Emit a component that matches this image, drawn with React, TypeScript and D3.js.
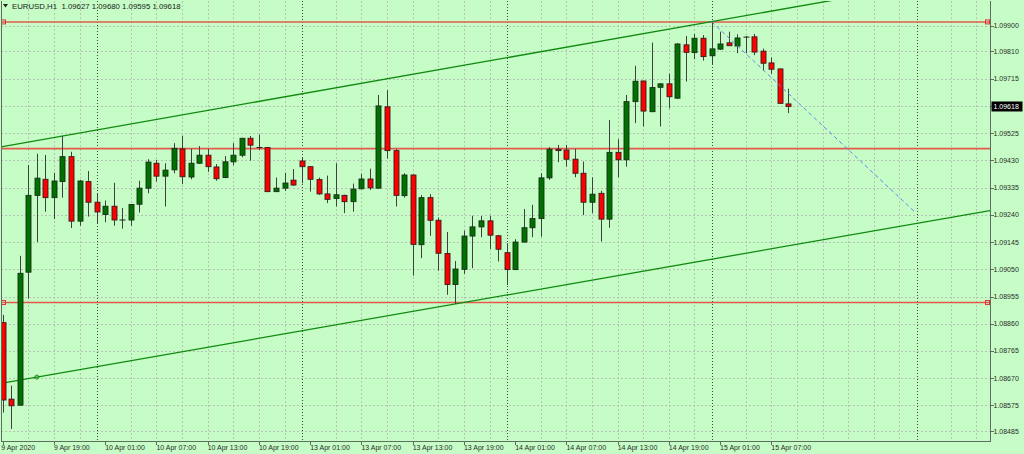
import React from "react";
import * as d3 from "d3";

// ---- data (EURUSD H1, first bar = 9 Apr 2020 13:00) ----
const OPEN = [1.08864,1.08597,1.08576,1.09040,1.09308,1.09364,1.09300,1.09356,1.09443,1.09218,
1.09356,1.09284,1.09241,1.09270,1.09222,1.09222,1.09277,1.09333,1.09420,1.09375,
1.09397,1.09470,1.09372,1.09420,1.09448,1.09407,1.09370,1.09425,1.09448,1.09507,
1.09475,1.09475,1.09321,1.09333,1.09361,1.09428,1.09408,1.09363,1.09313,1.09297,
1.09308,1.09286,1.09331,1.09365,1.09333,1.09617,1.09464,1.09307,1.09379,1.09136,
1.09300,1.09221,1.09105,1.08997,1.09050,1.09166,1.09198,1.09219,1.09167,1.09108,
1.09049,1.09145,1.09195,1.09227,1.09369,1.09469,1.09466,1.09434,1.09385,1.09284,
1.09315,1.09225,1.09458,1.09432,1.09635,1.09707,1.09600,1.09685,1.09697,1.09647,
1.09833,1.09806,1.09856,1.09795,1.09818,1.09840,1.09829,1.09860,1.09861,1.09811,
1.09770,1.09749,1.09627];
const HIGH = [1.08891,1.08644,1.09097,1.09414,1.09453,1.09449,1.09387,1.09515,1.09460,1.09362,
1.09393,1.09315,1.09290,1.09352,1.09264,1.09278,1.09359,1.09434,1.09432,1.09420,
1.09490,1.09516,1.09470,1.09480,1.09470,1.09417,1.09445,1.09490,1.09509,1.09515,
1.09520,1.09477,1.09370,1.09387,1.09400,1.09440,1.09410,1.09370,1.09377,1.09420,
1.09310,1.09349,1.09383,1.09401,1.09658,1.09675,1.09470,1.09385,1.09381,1.09309,
1.09312,1.09230,1.09180,1.09079,1.09185,1.09237,1.09236,1.09237,1.09170,1.09141,
1.09155,1.09260,1.09275,1.09385,1.09476,1.09484,1.09484,1.09470,1.09426,1.09371,
1.09324,1.09571,1.09504,1.09658,1.09760,1.09708,1.09841,1.09699,1.09732,1.09839,
1.09864,1.09871,1.09867,1.09914,1.09879,1.09879,1.09870,1.09864,1.09871,1.09820,
1.09789,1.09750,1.09680];
const LOW = [1.08550,1.08493,1.08574,1.08948,1.09145,1.09251,1.09225,1.09300,1.09194,1.09202,
1.09234,1.09211,1.09214,1.09202,1.09192,1.09202,1.09248,1.09315,1.09356,1.09269,
1.09385,1.09347,1.09364,1.09418,1.09390,1.09359,1.09368,1.09413,1.09441,1.09429,
1.09466,1.09319,1.09319,1.09323,1.09341,1.09350,1.09321,1.09310,1.09281,1.09269,
1.09246,1.09251,1.09329,1.09327,1.09331,1.09436,1.09269,1.09300,1.09028,1.09089,
1.09167,1.09045,1.08961,1.08929,1.09034,1.09054,1.09162,1.09121,1.09077,1.08995,
1.09047,1.09143,1.09162,1.09164,1.09362,1.09424,1.09408,1.09371,1.09239,1.09246,
1.09147,1.09195,1.09371,1.09408,1.09560,1.09548,1.09598,1.09548,1.09611,1.09645,
1.09705,1.09783,1.09778,1.09763,1.09815,1.09829,1.09804,1.09804,1.09797,1.09743,
1.09732,1.09628,1.09595];
const CLOSE = [1.08594,1.08574,1.09036,1.09308,1.09368,1.09300,1.09358,1.09443,1.09218,1.09358,
1.09284,1.09250,1.09270,1.09222,1.09222,1.09276,1.09333,1.09424,1.09375,1.09396,
1.09472,1.09373,1.09420,1.09448,1.09408,1.09366,1.09425,1.09448,1.09507,1.09483,
1.09474,1.09321,1.09333,1.09351,1.09344,1.09408,1.09364,1.09313,1.09294,1.09310,
1.09286,1.09330,1.09365,1.09334,1.09620,1.09464,1.09308,1.09379,1.09137,1.09300,
1.09221,1.09106,1.08997,1.09051,1.09166,1.09198,1.09219,1.09169,1.09120,1.09049,
1.09145,1.09195,1.09227,1.09369,1.09469,1.09464,1.09434,1.09385,1.09284,1.09312,
1.09225,1.09458,1.09432,1.09635,1.09706,1.09602,1.09684,1.09697,1.09652,1.09836,
1.09807,1.09856,1.09792,1.09819,1.09836,1.09830,1.09857,1.09859,1.09808,1.09769,
1.09748,1.09629,1.09618];

const HEADER = "EURUSD,H1  1.09627 1.09680 1.09595 1.09618";
const CURRENT_PRICE = 1.09618;

const PRICE_TICKS = ["1.09900","1.09810","1.09715","1.09620","1.09525","1.09430","1.09335","1.09240",
  "1.09145","1.09050","1.08955","1.08860","1.08765","1.08670","1.08575","1.08485"];

const TIME_LABELS = ["9 Apr 2020","9 Apr 19:00","10 Apr 01:00","10 Apr 07:00","10 Apr 13:00","10 Apr 19:00",
  "13 Apr 01:00","13 Apr 07:00","13 Apr 13:00","13 Apr 19:00","14 Apr 01:00","14 Apr 07:00",
  "14 Apr 13:00","14 Apr 19:00","15 Apr 01:00","15 Apr 07:00"];
const TIME_LABEL_BARS = [0,6,12,18,24,30,36,42,48,54,60,66,72,78,84,90];

const DAY_SEPARATORS = [11,35,59,83,107];

const RED_LEVELS = [1.09913, 1.09471, 1.08934];
const RED_MARKED = [true, false, true];
const UPPER_TREND = [[7, 1.09515], [83, 1.09914]];
const LOWER_TREND = [[4, 1.08674], [53, 1.08929]];
const FORECAST = [[83, 1.09914], [106.8, 1.09250]];

const VISIBLE_BARS = [-0.2, 115.6];
const VISIBLE_PRICES = [1.09986, 1.08451];

export default function App() {
  const W = 1024, H = 454;
  const L = 1, R = 990, T = 1, B = 441;
  const x = d3.scaleLinear().domain(VISIBLE_BARS).range([L, R]);
  const y = d3.scaleLinear().domain(VISIBLE_PRICES).range([T, B]);
  const bg = "#c6fdc6";
  const font = "'Liberation Sans', Arial, sans-serif";

  const extend = (pts: number[][]) => {
    const [[i1, p1], [i2, p2]] = pts;
    const k = (p2 - p1) / (i2 - i1);
    const a = VISIBLE_BARS[0], b = VISIBLE_BARS[1];
    return [[a, p1 + k * (a - i1)], [b, p1 + k * (b - i1)]];
  };
  const line = d3.line<number[]>().x(d => x(d[0])).y(d => y(d[1]));

  const gridBars: number[] = [];
  for (let i = 3; i <= 115; i += 3) {
    if (DAY_SEPARATORS.some(s => Math.abs(s - i) <= 1)) continue;
    gridBars.push(i);
  }

  const n = OPEN.length;
  const candles = d3.range(n).map(i => {
    const o = OPEN[i], c = CLOSE[i];
    const bull = c >= o;
    const cx = Math.round(x(i));
    const top = y(Math.max(o, c)), bot = y(Math.min(o, c));
    return (
      <g key={i}>
        <line x1={cx + 0.5} x2={cx + 0.5} y1={y(HIGH[i])} y2={y(LOW[i])} stroke="#404040" strokeWidth={1} />
        {bot - top < 1.2 ? (
          <line x1={cx - 2.5} x2={cx + 3.5} y1={top} y2={top} stroke="#202020" strokeWidth={1} />
        ) : (
          <rect x={cx - 2} y={top} width={5} height={bot - top}
            fill={bull ? "#007000" : "#ff0000"} stroke={bull ? "#143014" : "#3a1a1a"} strokeWidth={0.9} />
        )}
      </g>
    );
  });

  const up = extend(UPPER_TREND);
  const lo = extend(LOWER_TREND);
  const cpY = y(CURRENT_PRICE);

  return (
    <svg width={W} height={H} style={{ position: "absolute", left: 0, top: 0, display: "block" }}
      fontFamily={font}>
      <rect x={0} y={0} width={W} height={H} fill={bg} />
      <defs>
        <clipPath id="plot"><rect x={L} y={T} width={R - L} height={B - T} /></clipPath>
      </defs>
      <g clipPath="url(#plot)">
        {PRICE_TICKS.map(t => (
          <line key={t} x1={L} x2={R} y1={Math.round(y(+t)) + 0.5} y2={Math.round(y(+t)) + 0.5}
            stroke="#b5c3b5" strokeDasharray="2,2" />
        ))}
        {gridBars.map(i => (
          <line key={i} x1={Math.round(x(i)) + 0.5} x2={Math.round(x(i)) + 0.5} y1={T} y2={B}
            stroke="#b5c3b5" strokeDasharray="2,2" />
        ))}
        {DAY_SEPARATORS.map(i => (
          <line key={"s" + i} x1={Math.round(x(i)) + 0.5} x2={Math.round(x(i)) + 0.5} y1={T} y2={B}
            stroke="#3c4a3c" strokeDasharray="1,2" />
        ))}
        {RED_LEVELS.map((p, k) => (
          <line key={"r" + k} x1={L} x2={R} y1={y(p)} y2={y(p)} stroke="#e35a4c" strokeWidth={1.6} />
        ))}
        <path d={line(up) || ""} stroke="#0f8a0f" strokeWidth={1.3} fill="none" />
        <path d={line(lo) || ""} stroke="#0f8a0f" strokeWidth={1.3} fill="none" />
        {candles}
        <path d={line(FORECAST) || ""} stroke="#5b86f0" strokeWidth={1} strokeDasharray="4,3" fill="none" />
        <circle cx={x(LOWER_TREND[0][0])} cy={y(LOWER_TREND[0][1])} r={2} fill="none" stroke="#0f8a0f" strokeWidth={1} />
        {RED_LEVELS.map((p, k) => RED_MARKED[k] ? (
          <g key={"m" + k}>
            <rect x={L + 0.5} y={y(p) - 2} width={4} height={4} fill="none" stroke="#e0303a" strokeWidth={1} />
            <rect x={R - 4.5} y={y(p) - 2} width={4} height={4} fill="none" stroke="#e0303a" strokeWidth={1} />
          </g>
        ) : null)}
      </g>
      {/* frame */}
      <line x1={L + 0.5} x2={L + 0.5} y1={T} y2={B} stroke="#5f6f5f" />
      <line x1={R + 0.5} x2={R + 0.5} y1={T} y2={B + 0.5} stroke="#5f6f5f" />
      <line x1={L} x2={R + 1} y1={B + 0.5} y2={B + 0.5} stroke="#5f6f5f" />
      {/* price axis */}
      {PRICE_TICKS.map(t => (
        <g key={"pt" + t}>
          <line x1={R + 1} x2={R + 4} y1={Math.round(y(+t)) + 0.5} y2={Math.round(y(+t)) + 0.5} stroke="#5f6f5f" />
          <text x={R + 3.5} y={y(+t)} dy="0.35em" fontSize={7} fill="#2a2a2a">{t}</text>
        </g>
      ))}
      <rect x={R + 1.5} y={cpY - 5} width={W - R - 3} height={10} fill="#000" />
      <text x={R + 3.5} y={cpY} dy="0.35em" fontSize={7} fill="#fff">{CURRENT_PRICE.toFixed(5)}</text>
      {/* time axis */}
      {TIME_LABELS.map((t, k) => (
        <g key={"tl" + k}>
          <line x1={Math.round(x(TIME_LABEL_BARS[k])) + 0.5} x2={Math.round(x(TIME_LABEL_BARS[k])) + 0.5}
            y1={B + 1} y2={B + 4} stroke="#5f6f5f" />
          <text x={x(TIME_LABEL_BARS[k]) - (k === 0 ? 1.5 : 0)} y={B + 6.5} dy="0.35em" fontSize={7} fill="#2a2a2a">{t}</text>
        </g>
      ))}
      {/* header */}
      <path d="M3,4 L8,4 L5.5,7.5 Z" fill="#222" />
      <text x={12} y={6} dy="0.35em" fontSize={7.8} fill="#1a1a1a" xmlSpace="preserve">{HEADER}</text>
    </svg>
  );
}
